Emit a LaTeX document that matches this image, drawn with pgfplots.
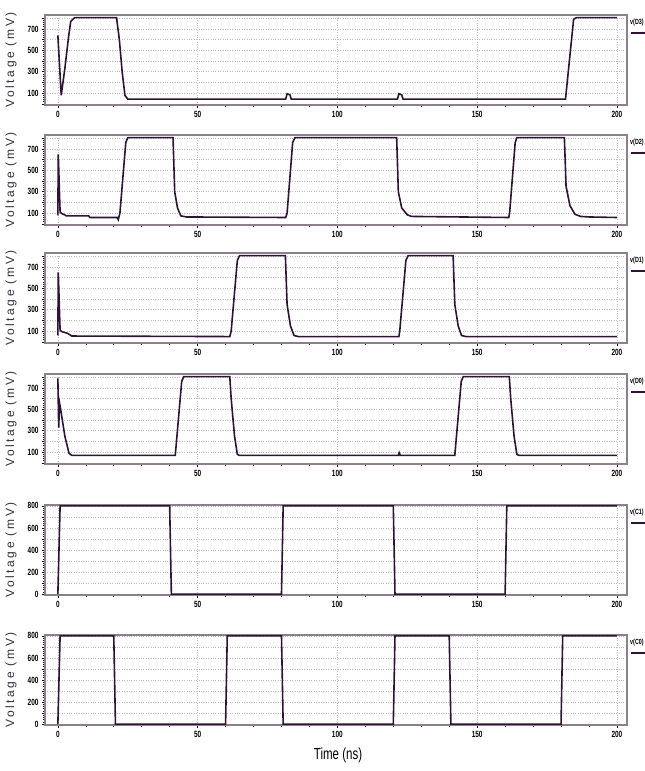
\documentclass[border=0pt]{standalone}
\usepackage{pgfplots}
\pgfplotsset{compat=1.18}
\usepackage{fontspec}
\setmainfont{Liberation Sans}
\newfontfamily\tickfont[FakeStretch=0.72]{Liberation Sans}
\newfontfamily\labfont[LetterSpace=22]{Liberation Sans}
\definecolor{trace}{RGB}{45,20,50}
\definecolor{frame}{RGB}{140,128,140}
\definecolor{gridc}{RGB}{190,185,196}
\tikzset{sig/.style={trace, line width=1.6pt, mark=none}}
\pgfplotsset{
 panel/.style={
  scale only axis, width=582pt, height=90pt,
  anchor=north west,
  xmin=-4.6, xmax=203.6,
  xtick={0,50,100,150,200}, minor x tick num=4,
  xtick pos=left, ytick pos=left,
  grid=major, major grid style={gridc, dash pattern=on 0.8pt off 1.6pt, line width=0.7pt},
  axis line style={frame, line width=1.6pt},
  tick style={black, line width=0.6pt},
  major tick length=3pt, minor tick length=2pt,
  tick align=outside,
  /pgf/number format/assume math mode=true,
  ticklabel style={font=\tickfont\bfseries\fontsize{9}{9}\selectfont},
 },
 dpanel/.style={panel, ymin=-10, ymax=830, ytick={0,100,...,800},
   yticklabels={,100,,300,,500,,700,}, minor y tick num=4},
 cpanel/.style={panel, ymin=-8, ymax=808, ytick={0,100,...,800},
   yticklabels={0,,200,,400,,600,,800}, minor y tick num=4},
}
\begin{document}
\begin{tikzpicture}
% ---- v(D3)
\begin{axis}[dpanel, name=p1, at={(45pt,756pt)}]
\addplot[sig] coordinates {(0,640) (1.2,80) (2.5,330) (3.8,620) (4.6,770) (6,805) (21,805) (22,600) (23,300) (24,80) (25,45) (81.5,45) (82,95) (83,85) (83.5,45) (121.5,45) (122,95) (123,85) (123.5,45) (181.6,45) (184.5,790) (185.5,805) (200,805)};
\end{axis}
% ---- v(D2)
\begin{axis}[dpanel, name=p2, at={(45pt,636pt)}]
\addplot[sig] coordinates {(0,80) (0.15,650) (0.8,110) (1.5,95) (2.5,85) (3,75) (11,75) (11.5,60) (21.2,60) (21.6,40) (22.2,100) (24.3,760) (25,805) (41.2,805) (41.8,300) (42.8,150) (44,75) (46,65) (81.5,60) (82,100) (84,760) (84.8,805) (121.2,805) (121.8,300) (123,150) (125,85) (126.5,70) (161.3,60) (161.6,100) (163.6,760) (164.2,805) (181.2,805) (181.8,350) (183.2,170) (185,90) (187,70) (190,65) (200,60)};
\end{axis}
% ---- v(D1)
\begin{axis}[dpanel, name=p3, at={(45pt,518pt)}]
\addplot[sig] coordinates {(0,60) (0.15,650) (0.8,110) (1.5,95) (3.5,80) (5,55) (61.5,50) (62,100) (64.2,760) (65,805) (81.4,805) (82,350) (83.2,150) (84.5,60) (86,50) (122,50) (122.3,100) (124.5,760) (125.3,805) (141.4,805) (142,350) (143.2,150) (144.4,60) (146,50) (200,50)};
\end{axis}
% ---- v(D0)
\begin{axis}[dpanel, name=p4, at={(45pt,397pt)}]
\addplot[sig] coordinates {(0,790) (0.3,330) (0.6,560) (1,500) (2.5,250) (4,90) (5,70) (42,70) (44.3,760) (45,805) (61.5,805) (62,600) (63.2,250) (64.2,80) (65,70) (121.8,70) (122.1,95) (122.5,70) (142,70) (144.3,760) (145,805) (161.5,805) (162,600) (163.2,250) (164.2,80) (165,70) (200,70)};
\end{axis}
% ---- v(C1)
\begin{axis}[cpanel, name=p5, at={(45pt,266pt)}]
\addplot[sig] coordinates {(0,0) (0.8,800) (40,800) (40.6,0) (80,0) (80.6,800) (120,800) (120.6,0) (160,0) (160.6,800) (200,800)};
\end{axis}
% ---- v(C0)
\begin{axis}[cpanel, name=p6, at={(45pt,136pt)}]
\addplot[sig] coordinates {(0,0) (0.8,800) (20,800) (20.6,0) (60,0) (60.6,800) (80,800) (80.6,0) (120,0) (120.6,800) (140,800) (140.6,0) (180,0) (180.6,800) (200,800)};
\end{axis}
% labels
\foreach \n/\t in {p1/D3,p2/D2,p3/D1,p4/D0,p5/C1,p6/C0}{
  \node[anchor=west, inner sep=0pt, font=\tickfont\bfseries\fontsize{7.5}{7.5}\selectfont, text=black]
     at ([xshift=3pt,yshift=-8pt]\n.north east) {v(\t)};
  \draw[trace, line width=1.6pt] ([xshift=4pt,yshift=-18pt]\n.north east) -- ++(14pt,0);
  \node[rotate=90, font=\labfont\fontsize{12}{12}\selectfont, text={rgb,255:red,55;green,45;blue,60}]
     at ([xshift=-34pt]\n.west) {Voltage (mV)};
}
\node[font=\tickfont\fontsize{16}{16}\selectfont] at (338pt,16pt) {Time (ns)};
\pgfresetboundingbox
\useasboundingbox (0pt,0pt) rectangle (645pt,771pt);
\end{tikzpicture}
\end{document}
